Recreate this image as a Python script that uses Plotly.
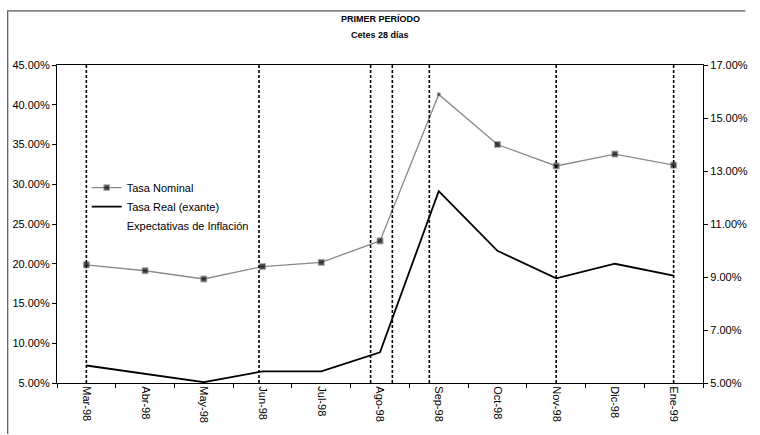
import plotly.graph_objects as go

# Monthly categories
meses = ["Mar-98", "Abr-98", "May-98", "Jun-98", "Jul-98", "Ago-98",
         "Sep-98", "Oct-98", "Nov-98", "Dic-98", "Ene-99"]

# Cetes 28 días, nominal rate (left axis, %)
tasa_nominal = [19.86, 19.12, 18.08, 19.65, 20.18, 22.87, 41.3, 35.0, 32.3, 33.8, 32.4]

# Ex-ante real rate (right axis, %)
tasa_real = [5.66, 5.35, 5.03, 5.44, 5.44, 6.16, 12.24, 9.99, 8.95, 9.5, 9.05]

# Reference dates marked with vertical dotted lines (category-index positions)
eventos = [0.0, 2.94, 4.84, 5.21, 5.84, 8.0, 10.0]

FONT = "Liberation Sans, Arial, sans-serif"

fig = go.Figure()

fig.add_trace(go.Scatter(
    x=meses, y=tasa_nominal, name="Tasa Nominal", mode="lines+markers",
    line=dict(color="#8a8a8a", width=1.3),
    marker=dict(symbol="square", size=[6, 6, 6, 6, 6, 6, 3, 6, 6, 6, 6], color="black"),
    yaxis="y",
))
fig.add_trace(go.Scatter(
    x=meses, y=tasa_real, name="Tasa Real (exante)", mode="lines",
    line=dict(color="black", width=1.8),
    yaxis="y2",
))
fig.add_trace(go.Scatter(
    x=meses, y=[None] * len(meses), name="Expectativas de Inflación", mode="lines",
    line=dict(color="rgba(0,0,0,0)", width=1),
    yaxis="y2",
))

shapes = [
    dict(type="line", xref="x", yref="paper", x0=e, x1=e, y0=0, y1=1,
         line=dict(color="black", width=1.6, dash="3px,2px"), layer="above")
    for e in eventos
]
# outer chart frame (top and left edges)
shapes.append(dict(type="path", xref="paper", yref="paper",
                   path="M -0.0763,-0.16 L -0.0763,1.170 L 1.0656,1.170",
                   line=dict(color="#555555", width=1.2)))

axis_font = dict(family=FONT, size=11, color="black")

fig.update_layout(
    width=760, height=435,
    margin=dict(l=57, r=48, t=65, b=47),
    paper_bgcolor="white", plot_bgcolor="white",
    font=axis_font,
    showlegend=True,
    legend=dict(x=0.046, y=0.66, xanchor="left", yanchor="top",
                bgcolor="rgba(0,0,0,0)", font=dict(family=FONT, size=11, color="black"),
                tracegroupgap=0, itemwidth=30),
    xaxis=dict(type="category", range=[-0.5, 10.5], tickson="boundaries",
               ticks="outside", ticklen=4, tickcolor="black", tickangle=90,
               showline=True, linecolor="black", linewidth=1.2, mirror=True,
               showgrid=False, tickfont=axis_font),
    yaxis=dict(range=[5, 45], dtick=5, tick0=5, tickformat=".2f", ticksuffix="%",
               ticks="outside", ticklen=4, tickcolor="black",
               showline=True, linecolor="black", linewidth=1.2,
               showgrid=False, zeroline=False, tickfont=axis_font),
    yaxis2=dict(range=[5, 17], dtick=2, tick0=5, tickformat=".2f", ticksuffix="%",
                overlaying="y", side="right",
                ticks="outside", ticklen=4, tickcolor="black",
                showline=True, linecolor="black", linewidth=1.2,
                showgrid=False, zeroline=False, tickfont=axis_font),
    shapes=shapes,
    annotations=[
        dict(text="<b>PRIMER PERÍODO</b>", xref="paper", yref="paper", x=0.5, y=1.145,
             showarrow=False, font=dict(family=FONT, size=9, color="black"),
             xanchor="center", yanchor="middle"),
        dict(text="<b>Cetes 28 días</b>", xref="paper", yref="paper", x=0.5, y=1.093,
             showarrow=False, font=dict(family=FONT, size=9, color="black"),
             xanchor="center", yanchor="middle"),
    ],
)

fig.write_html("out.html")
